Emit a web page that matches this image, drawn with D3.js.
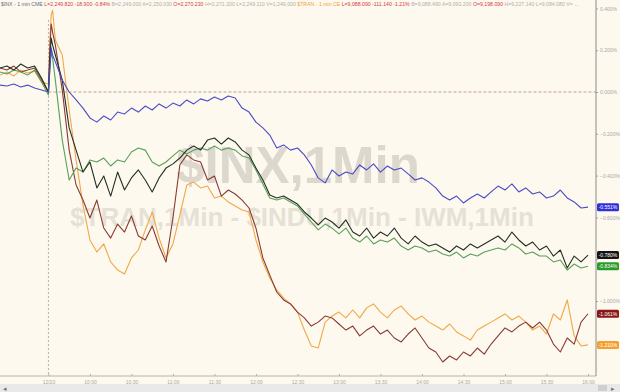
<!DOCTYPE html>
<html>
<head>
<meta charset="utf-8">
<script src="https://cdn.jsdelivr.net/npm/d3@7"></script>
<style>
  body { margin: 0; background: #fdf9ee; }
  svg { display: block; font-family: "Liberation Sans", Arial, sans-serif; }
</style>
</head>
<body>
<div id="chart-area"></div>
<script>
// minutes from the open (09:30); negatives are the tail of the prior session
var minutes = [-35, -30, -25, -20, -15, -10, -5, 0, 1, 2, 3,
  5, 10, 15, 20, 25, 30, 35, 40, 45, 50, 55, 60, 65, 70, 75, 80, 85, 90, 95, 100,
  105, 110, 115, 120, 125, 130, 135, 140, 145, 150, 155, 160, 165, 170, 175, 180,
  185, 190, 195, 200, 205, 210, 215, 220, 225, 230, 235, 240, 245, 250, 255, 260,
  265, 270, 275, 280, 285, 290, 295, 300, 305, 310, 315, 320, 325, 330, 335, 340,
  345, 350, 355, 360, 365, 370, 375, 380, 385, 390];

var blue = [0.033, 0.029, 0.038, 0.024, 0.033, 0.019, 0.010, 0.000, 0.105, 0.211, 0.177,
  0.144, 0.057, 0.000, -0.038, -0.077, -0.124, -0.144, -0.115, -0.134, -0.096, -0.105, -0.077, -0.096, -0.067, -0.086, -0.057, -0.077, -0.053, -0.067, -0.038,
  -0.057, -0.033, -0.043, -0.024, -0.038, -0.019, -0.029, -0.077, -0.096, -0.144, -0.172, -0.206, -0.268, -0.253, -0.278, -0.268,
  -0.301, -0.349, -0.411, -0.435, -0.373, -0.402, -0.383, -0.392, -0.349, -0.373, -0.344, -0.383, -0.354, -0.373, -0.364, -0.392,
  -0.421, -0.411, -0.431, -0.459, -0.498, -0.517, -0.498, -0.531, -0.507, -0.488, -0.507, -0.478, -0.450, -0.469, -0.440, -0.478,
  -0.459, -0.488, -0.478, -0.507, -0.498, -0.469, -0.507, -0.526, -0.555, -0.551];

var black = [0.115, 0.124, 0.105, 0.134, 0.115, 0.124, 0.067, 0.000, 0.153, 0.258, 0.225,
  0.177, 0.057, -0.172, -0.278, -0.383, -0.335, -0.459, -0.402, -0.498, -0.383, -0.469, -0.411, -0.373, -0.421, -0.478, -0.411, -0.364, -0.344, -0.316, -0.278,
  -0.258, -0.278, -0.230, -0.220, -0.249, -0.220, -0.239, -0.278, -0.301, -0.364, -0.421, -0.493, -0.507, -0.498, -0.517, -0.536,
  -0.574, -0.603, -0.636, -0.603, -0.622, -0.651, -0.612, -0.670, -0.689, -0.651, -0.699, -0.670, -0.689, -0.651, -0.699, -0.727,
  -0.689, -0.718, -0.737, -0.727, -0.746, -0.766, -0.737, -0.756, -0.727, -0.746, -0.727, -0.708, -0.689, -0.718, -0.670, -0.708,
  -0.737, -0.718, -0.756, -0.737, -0.785, -0.756, -0.842, -0.785, -0.813, -0.780];

var green = [0.096, 0.086, 0.105, 0.096, 0.081, 0.105, 0.048, -0.014, 0.105, 0.191, 0.163,
  0.057, -0.230, -0.421, -0.364, -0.383, -0.325, -0.335, -0.316, -0.354, -0.325, -0.335, -0.287, -0.268, -0.278, -0.335, -0.354, -0.335, -0.306, -0.278, -0.297,
  -0.278, -0.268, -0.278, -0.258, -0.278, -0.268, -0.278, -0.306, -0.316, -0.373, -0.440, -0.507, -0.517, -0.507, -0.526, -0.545,
  -0.584, -0.622, -0.660, -0.632, -0.651, -0.679, -0.651, -0.699, -0.718, -0.689, -0.727, -0.708, -0.718, -0.699, -0.737, -0.756,
  -0.737, -0.746, -0.766, -0.756, -0.775, -0.785, -0.766, -0.794, -0.775, -0.785, -0.766, -0.756, -0.746, -0.756, -0.727, -0.746,
  -0.775, -0.766, -0.785, -0.785, -0.813, -0.804, -0.852, -0.823, -0.842, -0.834];

var darkred = [0.115, 0.105, 0.124, 0.096, 0.105, 0.115, 0.057, 0.000, 0.201, 0.325, 0.287,
  0.225, 0.010, -0.278, -0.445, -0.517, -0.603, -0.517, -0.651, -0.699, -0.632, -0.670, -0.593, -0.689, -0.708, -0.641, -0.737, -0.813, -0.603, -0.349, -0.301,
  -0.325, -0.335, -0.421, -0.402, -0.498, -0.469, -0.488, -0.517, -0.555, -0.651, -0.794, -0.876, -0.957, -0.995, -1.014, -1.053,
  -1.081, -1.120, -1.101, -1.072, -1.081, -1.110, -1.139, -1.120, -1.167, -1.139, -1.120, -1.158, -1.139, -1.177, -1.196, -1.158,
  -1.129, -1.177, -1.225, -1.244, -1.292, -1.263, -1.282, -1.244, -1.263, -1.225, -1.254, -1.206, -1.167, -1.129, -1.148, -1.120,
  -1.101, -1.129, -1.101, -1.139, -1.206, -1.244, -1.177, -1.206, -1.101, -1.061];

var orange = [0.081, 0.096, 0.077, 0.105, 0.091, 0.100, 0.048, 0.038, 0.249, 0.368, 0.392,
  0.249, 0.177, -0.086, -0.325, -0.541, -0.708, -0.766, -0.727, -0.813, -0.852, -0.871, -0.794, -0.756, -0.660, -0.574, -0.699, -0.794, -0.727, -0.589, -0.445,
  -0.431, -0.459, -0.450, -0.507, -0.498, -0.526, -0.545, -0.565, -0.574, -0.708, -0.813, -0.890, -0.947, -0.986, -1.014, -1.053,
  -1.139, -1.215, -1.225, -1.101, -1.072, -1.053, -1.081, -1.043, -1.081, -1.033, -1.014, -1.053, -1.081, -1.043, -1.024, -1.062,
  -1.091, -1.072, -1.101, -1.120, -1.139, -1.110, -1.148, -1.167, -1.187, -1.139, -1.120, -1.101, -1.081, -1.062, -1.091, -1.072,
  -1.101, -1.139, -1.120, -1.158, -1.062, -1.091, -0.995, -1.167, -1.215, -1.210];

var seriesNames = ["orange", "darkred", "green", "black", "blue"];
var seriesColors = { blue: "#4b4bc8", black: "#243024", green: "#58a058", darkred: "#8a3a34", orange: "#f0a848" };
var labelColors = { blue: "#3030d8", black: "#151515", green: "#2a9a2a", darkred: "#8a1616", orange: "#f4a030" };
var lastLabels = { blue: "-0.551%", black: "-0.780%", green: "-0.834%", darkred: "-1.061%", orange: "-1.210%" };

var yTicks = [0.4, 0.2, 0, -0.2, -0.4, -0.6, -0.8, -1.0];
var xTicks = [0, 30, 60, 90, 120, 150, 180, 210, 240, 270, 300, 330, 360, 390];
var xTickLabels = ["12/20", "10:00", "10:30", "11:00", "11:30", "12:00", "12:30",
  "13:00", "13:30", "14:00", "14:30", "15:00", "15:30", "16:00"];

var header1 = [
  ["$INX - 1 min  CME  ", "#6a6a8a"], ["L=2,249.820  -18.900  -0.84%  ", "#d63a4a"],
  ["B=2,249.000  A=2,250.030  ", "#b0b0b0"], ["O=2,270.230  ", "#d63a4a"],
  ["H=2,271.200  L=2,249.110  V=1,249,000  ", "#b0b0b0"]
];
var header2 = [
  ["$TRAN - 1 min  CE  ", "#f0a040"], ["L=9,088.090  -111.140  -1.21%  ", "#d63a4a"],
  ["B=9,088.490  A=9,093.200  ", "#b0b0b0"], ["O=9,198.090  ", "#d63a4a"],
  ["H=9,227.140  L=9,084.080  V= ...", "#b0b0b0"]
];

var W = 620, H = 392;
var svg = d3.select("#chart-area").append("svg")
    .attr("width", W)
    .attr("height", H);

svg.append("rect").attr("width", W).attr("height", H).attr("fill", "#fdf9ee");

// Scales
var x = d3.scaleLinear().domain([-35, 390]).range([0, 588]);
var y = d3.scaleLinear().domain([-1, 0]).range([301, 92]);
var plotRight = 596, plotBottom = 376;

// Watermark
svg.append("text")
    .attr("x", 298).attr("y", 183)
    .attr("text-anchor", "middle")
    .attr("font-size", "51px").attr("font-weight", "bold")
    .attr("fill", "#d2cdc3").attr("opacity", 0.75)
    .text("$INX,1Min");
svg.append("text")
    .attr("x", 302).attr("y", 226)
    .attr("text-anchor", "middle")
    .attr("font-size", "26px").attr("font-weight", "bold")
    .attr("fill", "#dedad0").attr("opacity", 0.75)
    .text("$TRAN,1Min - $INDU,1Min - IWM,1Min");

// Reference lines
svg.append("line")
    .attr("x1", x(0)).attr("x2", plotRight)
    .attr("y1", y(0)).attr("y2", y(0))
    .attr("stroke", "#b08a86").attr("stroke-width", 0.8)
    .attr("stroke-dasharray", "3,2");
svg.append("line")
    .attr("x1", x(0)).attr("x2", x(0))
    .attr("y1", 20).attr("y2", plotBottom)
    .attr("stroke", "#a0a0a0").attr("stroke-width", 0.8)
    .attr("stroke-dasharray", "2,2");

// Lines
var line = d3.line()
    .x(function(d, i){ return x(minutes[i]); })
    .y(function(d){ return y(d); });

var dataBy = { blue: blue, black: black, green: green, darkred: darkred, orange: orange };
seriesNames.forEach(function(name){
    svg.append("path")
        .attr("fill", "none")
        .attr("stroke", seriesColors[name])
        .attr("stroke-width", 1.1)
        .attr("stroke-linejoin", "round")
        .attr("d", line(dataBy[name]));
});

// X-axis
var xAxis = svg.append("g")
    .attr("transform", "translate(0," + plotBottom + ")")
    .call(d3.axisBottom(x).tickValues(xTicks).tickSize(2).tickPadding(2)
        .tickFormat(function(d, i){ return xTickLabels[i]; }));
xAxis.select(".domain").attr("stroke", "#b8b4a8").attr("d", "M0,0H" + plotRight);
xAxis.selectAll(".tick line").attr("stroke", "#b0b0b0").attr("y2", -2);
xAxis.selectAll("text").attr("font-size", "5px").attr("fill", "#a8a8a8");

// Y-axis (right); tick texts under a last-value label are covered, as in the original
var lastYs = seriesNames.map(function(n){ return y(dataBy[n][dataBy[n].length - 1]); });
var yAxis = svg.append("g")
    .attr("transform", "translate(" + plotRight + ",0)")
    .call(d3.axisRight(y).tickValues(yTicks).tickSize(2).tickPadding(2)
        .tickFormat(function(d){ return d3.format(".3f")(d) + "%"; }));
yAxis.select(".domain").attr("stroke", "#8a8a8a").attr("d", "M0,0V" + plotBottom);
yAxis.selectAll(".tick line").attr("stroke", "#a0a0a0");
yAxis.selectAll("text").attr("font-size", "5px").attr("fill", "#a8a8a8");
yAxis.selectAll(".tick").filter(function(d){
    return lastYs.some(function(ly){ return Math.abs(ly - y(d)) < 7; });
}).select("text").remove();

// Last value labels
["blue", "black", "green", "darkred", "orange"].forEach(function(name){
    var v = dataBy[name][dataBy[name].length - 1];
    var g = svg.append("g").attr("transform", "translate(" + (plotRight + 1) + "," + y(v) + ")");
    g.append("rect")
        .attr("x", 0).attr("y", -4).attr("width", 22).attr("height", 8).attr("rx", 1.5)
        .attr("fill", labelColors[name]);
    g.append("text")
        .attr("x", 11).attr("y", 2)
        .attr("text-anchor", "middle")
        .attr("font-size", "5px").attr("fill", "#ffffff")
        .text(lastLabels[name]);
});

// Header
var head = svg.append("text").attr("x", 1).attr("y", 6).attr("font-size", "5.2px");
header1.concat([["   ", "#fff"]]).concat(header2).forEach(function(p){
    head.append("tspan").attr("fill", p[1]).text(p[0]);
});

// Scroll bar
svg.append("rect").attr("x", 0).attr("y", 384).attr("width", W).attr("height", 8).attr("fill", "#e9e9e9");
svg.append("rect").attr("x", 598).attr("y", 385).attr("width", 9).attr("height", 6).attr("fill", "#cfcfcf");
svg.append("text").attr("x", 3).attr("y", 391).attr("font-size", "7px").attr("fill", "#777").text("\u25C2");
svg.append("text").attr("x", 611).attr("y", 391).attr("font-size", "7px").attr("fill", "#777").text("\u25B8");
</script>
</body>
</html>
